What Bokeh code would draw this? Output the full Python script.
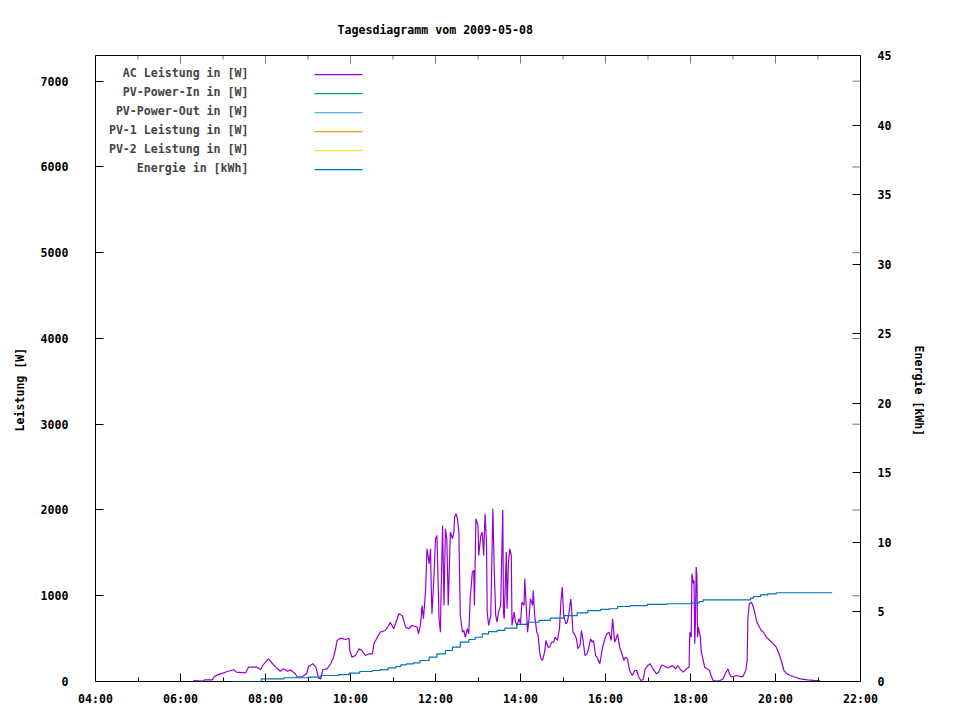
from bokeh.plotting import figure
from bokeh.models import Range1d, LinearAxis, FixedTicker, Label, BoxAnnotation, Title
from bokeh.embed import file_html
from bokeh.resources import INLINE

title_text = "Tagesdiagramm vom 2009-05-08"
ylabel_text = "Leistung [W]"
y2label_text = "Energie [kWh]"

x_tick_minutes = [240, 360, 480, 600, 720, 840, 960, 1080, 1200, 1320]
x_tick_labels = ["04:00", "06:00", "08:00", "10:00", "12:00", "14:00", "16:00", "18:00", "20:00", "22:00"]
x_minor_minutes = [300, 420, 540, 660, 780, 900, 1020, 1140, 1260]
y_ticks = [0, 1000, 2000, 3000, 4000, 5000, 6000, 7000]
y2_ticks = [0, 5, 10, 15, 20, 25, 30, 35, 40, 45]

series_names = ["AC Leistung in [W]", "PV-Power-In in [W]", "PV-Power-Out in [W]",
                "PV-1 Leistung in [W]", "PV-2 Leistung in [W]", "Energie in [kWh]"]
series_colors = ["#9400D3", "#009E73", "#56B4E9", "#E69F00", "#F0E442", "#0072B2"]

# AC power (minutes since midnight, W)
ac_minutes = [378, 392, 394, 405, 407, 412, 421, 426, 435, 439, 452, 456, 468, 473, 477, 484, 490, 497, 501, 505,
              511, 515, 522, 525, 532, 538, 541, 547, 551, 555, 558, 561, 567, 572, 576, 579, 581, 586, 593, 598,
              599, 602, 607, 612, 616, 621, 626, 631, 633, 638, 642, 649, 654, 656, 661, 666, 668, 673, 678, 682,
              687, 694, 696, 699, 701, 703, 706, 708, 711, 713, 714, 715, 718, 720, 722, 725, 727, 728, 730, 732,
              734, 736, 738, 741, 744, 746, 747, 749, 751, 753, 755, 758, 760, 762, 765, 767, 769, 772, 774, 775,
              777, 780, 781, 784, 786, 788, 790, 792, 793, 795, 798, 801, 803, 805, 807, 809, 812, 815, 816, 817,
              820, 821, 823, 825, 827, 828, 831, 833, 835, 838, 840, 842, 845, 846, 848, 850, 852, 854, 857, 858,
              860, 863, 865, 867, 869, 871, 874, 876, 879, 881, 884, 887, 889, 892, 895, 897, 899, 901, 904, 906,
              908, 911, 912, 914, 916, 919, 921, 924, 926, 928, 931, 934, 936, 939, 941, 943, 946, 948, 952, 955,
              959, 962, 965, 968, 970, 973, 975, 977, 980, 984, 986, 988, 991, 994, 998, 1001, 1004, 1007, 1010, 1013,
              1016, 1020, 1023, 1027, 1032, 1035, 1039, 1042, 1046, 1049, 1054, 1059, 1062, 1066, 1070, 1074, 1078, 1079, 1081, 1082,
              1084, 1085, 1086, 1087, 1088, 1089, 1090, 1091, 1094, 1095, 1098, 1100, 1103, 1107, 1109, 1112, 1117, 1122, 1126, 1129,
              1133, 1135, 1137, 1141, 1145, 1150, 1154, 1158, 1160, 1161, 1163, 1166, 1168, 1170, 1173, 1176, 1180, 1183, 1187, 1192,
              1197, 1201, 1205, 1208, 1212, 1216, 1221, 1228, 1235, 1245, 1254, 1263]
ac_watts = [10, 5, 20, 20, 50, 78, 101, 117, 137, 109, 101, 167, 167, 140, 198, 265, 207, 148, 120, 148,
            120, 137, 90, 50, 58, 90, 179, 207, 167, 39, 31, 140, 148, 207, 284, 382, 478, 505, 490, 505,
            362, 284, 303, 382, 362, 303, 323, 323, 440, 517, 575, 595, 653, 692, 615, 732, 790, 770, 634, 615,
            653, 634, 556, 673, 887, 732, 1062, 1548, 1373, 1548, 1082, 790, 1257, 1665, 1703, 732, 575, 1082, 1820, 887,
            1781, 1665, 887, 1742, 1665, 1742, 1917, 1957, 1898, 1742, 770, 575, 595, 517, 615, 556, 965, 1275, 1295, 887,
            1898, 1820, 1470, 1703, 1742, 1470, 1957, 1625, 809, 653, 770, 2015, 1275, 770, 692, 809, 887, 2003, 809, 732,
            1509, 848, 1392, 1548, 1470, 653, 809, 692, 653, 732, 673, 925, 887, 1198, 887, 575, 732, 965, 887, 1062,
            770, 575, 537, 342, 265, 245, 342, 478, 400, 400, 459, 459, 517, 478, 615, 925, 1100, 770, 673, 692,
            770, 965, 867, 575, 556, 498, 382, 420, 595, 498, 303, 323, 382, 498, 459, 478, 303, 284, 207, 362,
            498, 556, 575, 478, 732, 459, 498, 556, 400, 303, 245, 284, 265, 128, 70, 128, 128, 50, 12, 20,
            148, 187, 207, 148, 90, 109, 187, 187, 167, 160, 187, 148, 187, 137, 109, 148, 167, 575, 517, 1257,
            1140, 1178, 440, 712, 1334, 1237, 517, 634, 517, 362, 245, 167, 148, 128, 70, 12, 4, 12, 31, 90,
            148, 90, 58, 58, 70, 58, 58, 128, 245, 732, 907, 925, 887, 828, 712, 653, 595, 575, 517, 478,
            440, 400, 323, 245, 128, 90, 70, 50, 31, 20, 12, 8]

# Energy (minutes since midnight, kWh)
energy_minutes = [432, 474, 506, 541, 558, 583, 598, 613, 631, 642, 653, 664, 671, 679, 689, 698, 711, 722, 734, 744,
                  755, 767, 776, 786, 795, 807, 818, 835, 849, 866, 882, 901, 920, 935, 953, 965, 977, 995, 1019, 1047,
                  1080, 1092, 1098, 1165, 1169, 1179, 1189, 1201, 1280]
energy_kwh = [0.0, 0.19, 0.27, 0.31, 0.43, 0.50, 0.60, 0.72, 0.79, 0.86, 0.98, 1.08, 1.20, 1.27, 1.34, 1.51, 1.75, 1.99, 2.23, 2.47,
              2.83, 3.02, 3.18, 3.43, 3.59, 3.67, 3.83, 4.10, 4.26, 4.39, 4.55, 4.74, 4.94, 5.10, 5.18, 5.23, 5.39, 5.46, 5.54, 5.59,
              5.63, 5.75, 5.87, 5.99, 6.11, 6.23, 6.30, 6.38, 6.38]

FONT = "DejaVu Sans Mono"
FS = "11.6px"

FR_LEFT, FR_RIGHT, FR_TOP, FR_BOTTOM = 95, 860, 55, 681
W, H = 952, 712

p = figure(width=W, height=H, output_backend="svg", toolbar_location=None,
           x_range=Range1d(240, 1320), y_range=Range1d(0, 7300),
           min_border_left=FR_LEFT, min_border_right=W - FR_RIGHT,
           min_border_top=FR_TOP, min_border_bottom=H - FR_BOTTOM)
p.extra_y_ranges = {"energy": Range1d(0, 45)}
p.xgrid.visible = False
p.ygrid.visible = False
p.outline_line_color = "black"
p.outline_line_width = 1
p.outline_line_alpha = 1
p.background_fill_color = "white"
p.border_fill_color = "white"

# title
p.title.text = title_text
p.title.align = "left"
p.title.offset = 242
p.title.standoff = 37
p.title.text_font = FONT
p.title.text_font_style = "bold"
p.title.text_font_size = FS
p.title.text_color = "black"


def style_axis(ax):
    ax.axis_line_color = None
    ax.major_tick_in = 8
    ax.major_tick_out = 0
    ax.minor_tick_in = 4
    ax.minor_tick_out = 0
    ax.major_tick_line_color = "black"
    ax.minor_tick_line_color = "black"
    ax.major_label_text_font = FONT
    ax.major_label_text_font_style = "bold"
    ax.major_label_text_color = "black"
    ax.major_label_text_font_size = FS


xa = p.xaxis[0]
xa.ticker = FixedTicker(ticks=x_tick_minutes, minor_ticks=x_minor_minutes)
xa.major_label_overrides = {m: s for m, s in zip(x_tick_minutes, x_tick_labels)}
style_axis(xa)
xa.major_label_standoff = 10

ya = p.yaxis[0]
ya.ticker = FixedTicker(ticks=y_ticks, minor_ticks=[])
style_axis(ya)
ya.major_label_standoff = 27

y2a = LinearAxis(y_range_name="energy", ticker=FixedTicker(ticks=y2_ticks, minor_ticks=[]))
style_axis(y2a)
y2a.major_label_standoff = 17
p.add_layout(y2a, "right")

# axis titles (placed like gnuplot's ylabel / y2label)
p.add_layout(Title(text=ylabel_text, align="left", offset=250, standoff=21,
                   text_font=FONT, text_font_style="bold", text_font_size=FS,
                   text_color="black"), "left")
p.add_layout(Title(text=y2label_text, align="left", offset=290, standoff=34,
                   text_font=FONT, text_font_style="bold", text_font_size=FS,
                   text_color="black"), "right")

# mirrored ticks on the top and right border (gnuplot style)
for t in x_tick_minutes:
    p.add_layout(BoxAnnotation(left=t, right=t, top=FR_TOP, bottom=FR_TOP + 8,
                               left_units="data", right_units="data",
                               top_units="canvas", bottom_units="canvas",
                               fill_alpha=0, line_color="black", line_width=1))
for t in x_minor_minutes:
    p.add_layout(BoxAnnotation(left=t, right=t, top=FR_TOP, bottom=FR_TOP + 4,
                               left_units="data", right_units="data",
                               top_units="canvas", bottom_units="canvas",
                               fill_alpha=0, line_color="black", line_width=1))
for t in y_ticks:
    p.add_layout(BoxAnnotation(left=FR_RIGHT - 8, right=FR_RIGHT, top=t, bottom=t,
                               left_units="canvas", right_units="canvas",
                               top_units="data", bottom_units="data",
                               fill_alpha=0, line_color="black", line_width=1))

# data
p.line(ac_minutes, ac_watts, line_color=series_colors[0], line_width=1.2)
p.step(energy_minutes, energy_kwh, mode="after", y_range_name="energy",
       line_color=series_colors[5], line_width=1.2)

# legend (text, then line sample), gnuplot style
for i, (name, col) in enumerate(zip(series_names, series_colors)):
    ty = 72 + 19 * i
    p.add_layout(Label(x=248, y=ty, x_units="canvas", y_units="canvas", text=name,
                       text_font=FONT, text_font_style="bold", text_font_size=FS,
                       text_align="right", text_baseline="middle"))
    p.add_layout(BoxAnnotation(left=314, right=362, top=ty + 1.6, bottom=ty + 2.8,
                               left_units="canvas", right_units="canvas",
                               top_units="canvas", bottom_units="canvas",
                               fill_color=col, fill_alpha=1, line_color=None))

open("out.html", "w").write(file_html(p, INLINE))
